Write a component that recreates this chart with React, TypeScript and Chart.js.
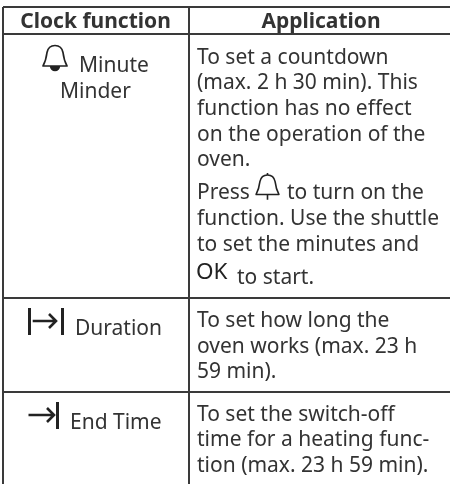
import React, { useEffect, useRef } from "react";
import { Chart, registerables } from "chart.js";

Chart.register(...registerables);

// ---- content ----
const headers = ["Clock function", "Application"];
const functionNames = ["Minute", "Minder", "Duration", "End Time"];
const minuteMinderText = [
  "To set a countdown",
  "(max. 2 h 30 min). This",
  "function has no effect",
  "on the operation of the",
  "oven.",
];
const pressLineParts = ["Press", "to turn on the"];
const shuttleText = ["function. Use the shuttle", "to set the minutes and"];
const startParts = ["OK", "to start."];
const durationText = ["To set how long the", "oven works (max. 23 h", "59 min)."];
const endTimeText = ["To set the switch-off", "time for a heating func-", "tion (max. 23 h 59 min)."];

// ---- table rules, on the axes ----
const columnRules = [3, 188.5];
const rowRules = [7, 34, 297.7, 391.7];

const INK = "#333333";
const RULE = "#3a3a3a";
const ICON = "#222222";
const FONT = '"Noto Sans"';
const BODY = 21;

function bell(c: CanvasRenderingContext2D, x: number, y: number, s: number, lw: number, filled: boolean) {
  // x = centre, y = top of the dome, s = scale (1 = 24px wide icon)
  c.save();
  c.translate(x, y);
  c.scale(s, s);
  c.strokeStyle = ICON;
  c.fillStyle = ICON;
  c.lineWidth = lw / s;
  c.lineJoin = "round";
  c.beginPath();
  c.moveTo(-12, 20.5);
  c.lineTo(12, 20.5);
  c.bezierCurveTo(9.5, 16, 8.5, 11, 8, 7);
  c.bezierCurveTo(7, 2, 4, 0, 0, 0);
  c.bezierCurveTo(-4, 0, -7, 2, -8, 7);
  c.bezierCurveTo(-8.5, 11, -9.5, 16, -12, 20.5);
  c.closePath();
  c.stroke();
  c.beginPath();
  if (filled) {
    c.arc(0, 20.5, 5.2, 0, Math.PI);
    c.fill();
  } else {
    c.moveTo(0, 20.5);
    c.lineTo(0, 26);
    c.moveTo(0, 0);
    c.lineTo(0, -2);
    c.stroke();
  }
  c.restore();
}

function arrow(c: CanvasRenderingContext2D, x0: number, x1: number, y: number) {
  c.save();
  c.strokeStyle = ICON;
  c.lineWidth = 2.6;
  c.beginPath();
  c.moveTo(x0, y);
  c.lineTo(x1 - 1, y);
  c.moveTo(x1 - 8, y - 7);
  c.lineTo(x1 - 1, y);
  c.lineTo(x1 - 8, y + 7);
  c.stroke();
  c.restore();
}

function bar(c: CanvasRenderingContext2D, x: number, y0: number, y1: number) {
  c.save();
  c.fillStyle = ICON;
  c.fillRect(x, y0, 3, y1 - y0);
  c.restore();
}

const tablePlugin = {
  id: "tableText",
  afterDraw(chart: any) {
    const c: CanvasRenderingContext2D = chart.ctx;
    const X = (v: number) => chart.scales.x.getPixelForValue(v);
    const Y = (v: number) => chart.scales.y.getPixelForValue(v);
    const put = (t: string, x: number, y: number, align: CanvasTextAlign = "left") => {
      c.textAlign = align;
      c.fillText(t, X(x), Y(y));
    };
    c.save();
    c.fillStyle = INK;
    c.textBaseline = "alphabetic";

    c.font = `bold ${BODY}px ${FONT}`;
    put(headers[0], 95.5, 28, "center");
    put(headers[1], 321, 28, "center");

    c.font = `${BODY}px ${FONT}`;
    put(functionNames[0], 79, 71.7);
    put(functionNames[1], 60, 98);
    put(functionNames[2], 75, 334.7);
    put(functionNames[3], 70, 428.7);

    const left = 197;
    minuteMinderText.forEach((t, i) => put(t, left, [63.5, 89.3, 115, 141, 166][i]));
    put(pressLineParts[0], left, 199);
    put(pressLineParts[1], 287, 199);
    shuttleText.forEach((t, i) => put(t, left, [225, 251][i]));
    put(startParts[1], 237, 284);
    durationText.forEach((t, i) => put(t, left, [327, 352.7, 377.7][i]));
    endTimeText.forEach((t, i) => put(t, left, [421, 446, 472][i]));

    c.font = `22.5px ${FONT}`;
    c.fillStyle = ICON;
    put(startParts[0], left - 1, 279);
    c.restore();

    bell(c, X(55), Y(45.5), 1, 1.7, true);
    bell(c, X(267.5), Y(175), 0.95, 1.6, false);

    bar(c, X(28), Y(308), Y(335));
    arrow(c, X(32.7), X(57), Y(321));
    bar(c, X(61), Y(308), Y(335));

    arrow(c, X(28.5), X(55), Y(415));
    bar(c, X(56), Y(402), Y(429));
  },
};

export default function App() {
  const ref = useRef<HTMLCanvasElement>(null);
  useEffect(() => {
    document.body.style.margin = "0";
    const ruleAxis = (min: number, max: number, rules: number[], reverse: boolean) => ({
      type: "linear" as const,
      min,
      max,
      reverse,
      border: { display: false },
      ticks: { display: false },
      grid: { color: RULE, lineWidth: 2, drawTicks: false },
      afterBuildTicks: (axis: any) => {
        axis.ticks = rules.map((value) => ({ value }));
      },
    });
    const chart = new Chart(ref.current!, {
      type: "scatter",
      data: { datasets: [{ data: [], pointRadius: 0 }] },
      options: {
        animation: false,
        responsive: false,
        layout: { padding: { left: columnRules[0], top: rowRules[0], right: 0, bottom: 0 } },
        plugins: { legend: { display: false }, tooltip: { enabled: false }, title: { display: false } },
        scales: {
          x: ruleAxis(columnRules[0], 450, columnRules, false),
          y: ruleAxis(rowRules[0], 484, rowRules, true),
        },
      },
      plugins: [tablePlugin],
    });
    return () => chart.destroy();
  }, []);
  return <canvas ref={ref} width={450} height={484} style={{ display: "block" }} />;
}
